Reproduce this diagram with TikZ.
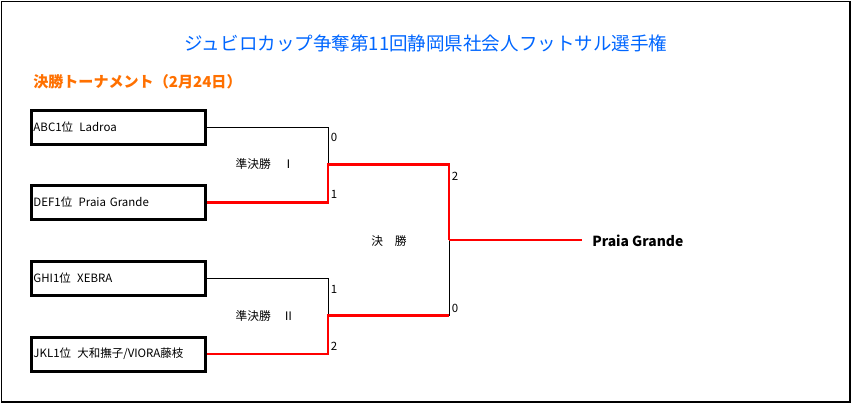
\documentclass[tikz,border=0pt]{standalone}
\usepackage{fontspec}
\setmainfont{Noto Sans CJK JP}
\definecolor{titleblue}{RGB}{0,102,255}
\definecolor{suborange}{RGB}{255,112,0}
\definecolor{winred}{RGB}{255,0,0}
\begin{document}
\begin{tikzpicture}[x=0.75pt,y=-0.75pt,
  team/.style={draw,line width=2.25pt,minimum width=130.5pt,minimum height=25.5pt,
    inner xsep=1.5pt,inner ysep=0pt,text width=127.5pt,align=left,
    font=\fontsize{8.6pt}{10pt}\selectfont},
  score/.style={anchor=west,inner sep=0pt,font=\fontsize{8.6pt}{10pt}\selectfont},
  roundlbl/.style={inner sep=0pt,font=\fontsize{8.8pt}{10pt}\selectfont},
  lose/.style={line width=0.75pt,black},
  win/.style={line width=1.6pt,winred}]
\useasboundingbox (0,0) rectangle (853,404);
\draw[line width=1.2pt] (1.5,1.5) rectangle (850,402);
\node[titleblue,font=\fontsize{13.9pt}{16pt}\selectfont,inner sep=0pt] (title) at (426,43) {ジュビロカップ争奪第11回静岡県社会人フットサル選手権};
\node[suborange,font=\fontsize{11.3pt}{13pt}\selectfont\bfseries,anchor=west,inner sep=0pt] (sub) at (33,82) {決勝トーナメント（2月24日）};
\node[team] (b1) at (118.5,127.5) {ABC1位\hspace{0.55em}Ladroa};
\node[team] (b2) at (118.5,202.5) {DEF1位\hspace{0.55em}Praia Grande};
\node[team] (b3) at (118.5,278.5) {GHI1位\hspace{0.55em}XEBRA};
\node[team] (b4) at (118.5,354) {JKL1位\hspace{0.55em}大和撫子/VIORA藤枝};
\coordinate (s1) at (328,164.5);
\coordinate (s2) at (328,315.5);
\coordinate (f) at (449,240);
\coordinate (f2) at (449,315.5);
\node[anchor=west,inner xsep=7.5pt,inner ysep=0pt,font=\fontsize{10.4pt}{12pt}\selectfont\bfseries] (win) at (582,241) {Praia Grande};
\draw[lose] (b1.east) -| (s1);
\draw[lose] (b3.east) -| (s2);
\draw[lose] (f2) -- (f);
\draw[win] (b2.east) -| (s1) -| (f);
\draw[win] (b4.east) -| (s2) -- (f2);
\draw[win] (f) -- (f -| win.west);
\node[score] (sc1) at (330.5,137) {0};
\node[score] (sc2) at (330.5,194) {1};
\node[score] (sc3) at (330.5,289) {1};
\node[score] (sc4) at (330.5,346.5) {2};
\node[score] (sc5) at (451.5,176) {2};
\node[score] (sc6) at (451.5,308) {0};
\node[roundlbl] (sf1) at (265,164) {準決勝　Ⅰ};
\node[roundlbl] (sf2) at (265,316) {準決勝　Ⅱ};
\node[roundlbl] (fin) at (389,241) {決　勝};
\end{tikzpicture}
\end{document}
